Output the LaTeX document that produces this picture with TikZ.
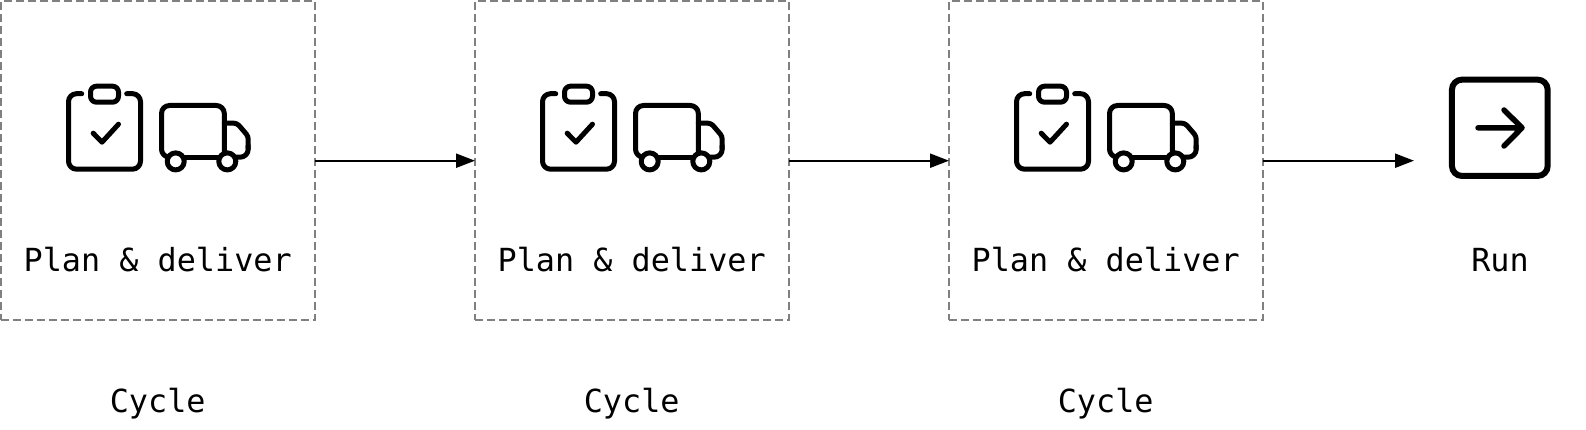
\documentclass[tikz,border=0pt]{standalone}
\usepackage{fontspec}
\setmonofont{DejaVu Sans Mono}
\usetikzlibrary{arrows.meta,positioning}
\tikzset{
  >={Triangle[length=19pt,width=14pt]},
  x=1pt, y=-1pt,
  bx/.style={draw=black!50, line width=2.4pt, dash pattern=on 8pt off 4pt, minimum width=314pt, minimum height=319pt, outer sep=0pt},
  lb/.style={font=\fontsize{31.8}{38}\selectfont\ttfamily, anchor=base, inner sep=0pt},
  ar/.style={->, line width=2.2pt},
  ic/.style={line width=5pt, line cap=round, line join=round},
  plantruck/.pic={
    % clipboard
    \draw[ic, rounded corners=8pt] (80.7,93) -- (67.5,93) -- (67.5,168.5) -- (139.5,168.5) -- (139.5,93) -- (125.7,93);
    \draw[ic, rounded corners=6pt] (89.5,85.5) rectangle (117.5,101.5);
    \draw[ic] (92.2,132.5) -- (101,141.5) -- (117.5,123.5);
    % truck
    \draw[ic, rounded corners=8pt] (170,156.5) -- (160.5,156.5) -- (160.5,104.8) -- (223.3,104.8) -- (223.3,156.5);
    \draw[ic, rounded corners=3pt] (223.3,122.5) -- (236,122.5) -- (247.2,135.5) -- (247.2,148);
    \draw[ic, rounded corners=8pt] (247.2,145) -- (247.2,156.5) -- (232,156.5);
    \draw[ic] (174.7,156.5) -- (226.3,156.5);
    \draw[ic, fill=white] (174.7,160.7) circle (8.5);
    \draw[ic, fill=white] (226.3,160.7) circle (8.5);
  }
}
\begin{document}
\begin{tikzpicture}
  \useasboundingbox (0,0) rectangle (1586,430);
  \node[bx] (c1) at (158,160.7) {};
  \node[bx, right=160pt of c1] (c2) {};
  \node[bx, right=160pt of c2] (c3) {};
  \pic at ([yshift=0.5pt]c1.north west) {plantruck};
  \pic at ([yshift=0.5pt]c2.north west) {plantruck};
  \pic at ([yshift=0.5pt]c3.north west) {plantruck};
  \node[lb] (p1) at (157.7,271) {Plan \& deliver};
  \node[lb] (p2) at (631.7,271) {Plan \& deliver};
  \node[lb] (p3) at (1105.7,271) {Plan \& deliver};
  \node[lb] (y1) at (157.7,412) {Cycle};
  \node[lb] (y2) at (631.7,412) {Cycle};
  \node[lb] (y3) at (1105.7,412) {Cycle};
  % run icon
  \node[draw, line width=6pt, rounded corners=10pt, minimum width=95.7pt, minimum height=96.3pt, outer sep=0pt] (run) at (1499.8,127.8) {};
  \draw[line width=5.5pt, line cap=round, line join=round] (1478,127.8) -- (1522,127.8) (1504,110) -- (1522,127.8) -- (1504,146);
  \node[lb] (r1) at (1500,271) {Run};
  \coordinate (rin) at (1414,160.7);
  \draw[ar] (c1) -- (c2);
  \draw[ar] (c2) -- (c3);
  \draw[ar] (c3) -- (rin);
\end{tikzpicture}
\end{document}
